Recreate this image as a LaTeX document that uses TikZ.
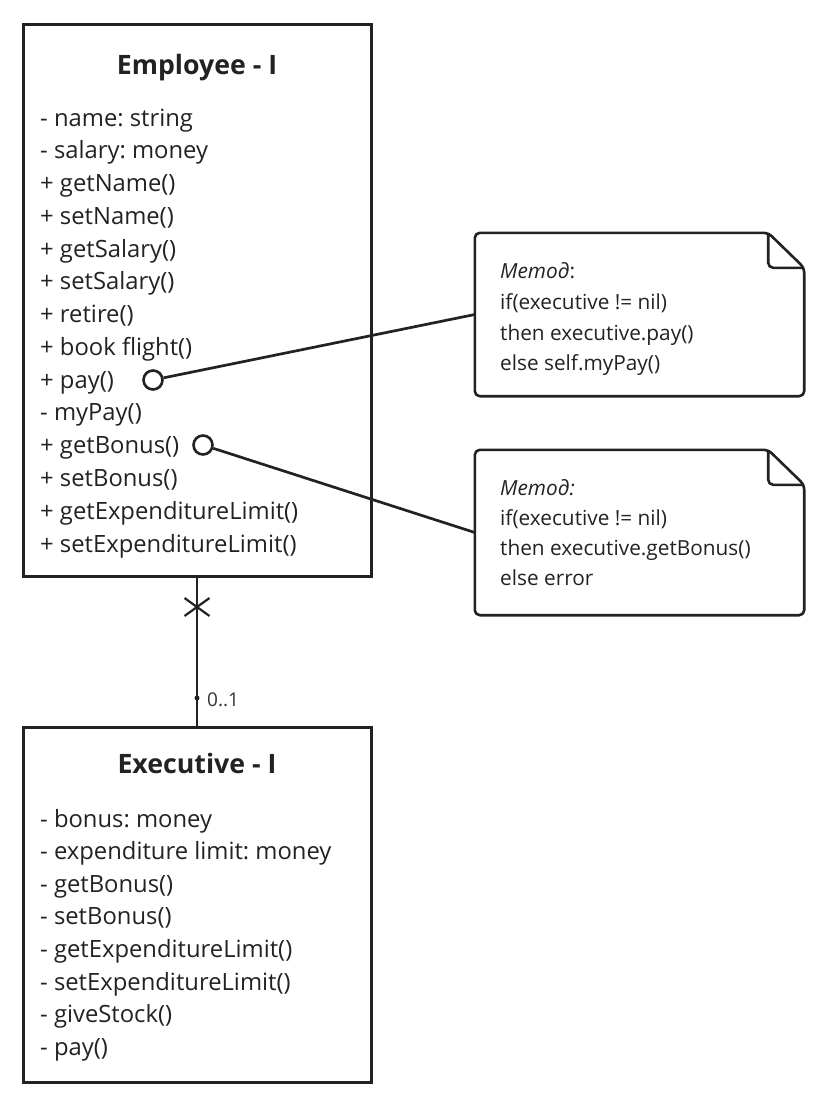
\documentclass[tikz,border=0pt]{standalone}
\usepackage{fontspec}
\setmainfont{Open Sans}
\definecolor{ink}{HTML}{222222}
\definecolor{softink}{HTML}{333333}
\begin{document}
\frenchspacing
\begin{tikzpicture}[x=1pt,y=-1pt,
  classbox/.style={draw=ink, line width=3pt, inner sep=0pt, minimum width=348pt},
  ttl/.style={anchor=base, inner sep=0pt, text=ink, font=\bfseries\fontsize{26.7}{30}\selectfont},
  item/.style={anchor=base west, inner sep=0pt, text=ink, font=\fontsize{23.8}{28}\selectfont},
  notebox/.style={inner sep=0pt, minimum width=329pt},
  noteline/.style={draw=ink, line width=2.6pt, rounded corners=5pt, line join=round},
  ntext/.style={anchor=base west, inner sep=0pt, text=ink, font=\fontsize{20.8}{25}\selectfont},
  port/.style={circle, draw=ink, line width=2.6pt, fill=white, inner sep=0pt, minimum size=19pt},
  conn/.style={draw=ink, line width=2.7pt}
]
\useasboundingbox (0,0) rectangle (833,1106);

% classes
\node[classbox, minimum height=552pt] (emp) at (197,300) {};
\node[classbox, minimum height=355pt] (exe) at (197,904.5) {};

\node[ttl] (empt) at (197,74) {Employee - I};
\foreach \t [count=\i] in {- name: string, - salary: money, + getName(), + setName(), + getSalary(), + setSalary(), + retire(), + book flight(), + pay(), - myPay(), + getBonus(), + setBonus(), + getExpenditureLimit(), + setExpenditureLimit()}
  \node[item] (ea\i) at (40,{126+32.77*(\i-1)}) {\t};

\node[ttl] (exet) at (197,773) {Executive - I};
\foreach \t [count=\i] in {- bonus: money, - expenditure limit: money, - getBonus(), - setBonus(), - getExpenditureLimit(), - setExpenditureLimit(), - giveStock(), - pay()}
  \node[item] (xa\i) at (40,{827+32.6*(\i-1)}) {\t};

% notes
\node[notebox, minimum height=163pt] (n1) at (639.5,314.5) {};
\node[notebox, minimum height=165pt] (n2) at (639.5,532.5) {};
\foreach \n in {n1,n2}{
  \draw[noteline] ([xshift=-36pt]\n.north east) -- (\n.north west) -- (\n.south west) -- (\n.south east) -- ([yshift=-35pt]\n.north east) -- cycle;
  \draw[noteline] ([xshift=-36pt]\n.north east) -- ([xshift=-36pt,yshift=-35pt]\n.north east) -- ([yshift=-35pt]\n.north east);
}
\node[ntext] (n1a) at (500,278) {\textit{Метод}:};
\node[ntext] (n1b) at (500,309) {if(executive != nil)};
\node[ntext] (n1c) at (500,340) {then executive.pay()};
\node[ntext] (n1d) at (500,370) {else self.myPay()};

\node[ntext] (n2a) at (500,495) {\textit{Метод:}};
\node[ntext] (n2b) at (500,525) {if(executive != nil)};
\node[ntext] (n2c) at (500,555) {then executive.getBonus()};
\node[ntext] (n2d) at (500,585) {else error};

% ports and note links
\node[port] (payc) at (153,380) {};
\node[port] (bonc) at (203,445) {};
\draw[conn] (payc) -- (n1.west);
\draw[conn] (bonc) -- (n2.west);

% association
\draw[conn] (emp.south) -- (exe.north);
\coordinate (xm) at (197,607);
\draw[conn, line width=2.2pt] (xm) ++(-12.5,-9) -- ++(25,18);
\draw[conn, line width=2.2pt] (xm) ++(-12.5,9) -- ++(25,-18);
\node[circle, fill=ink, inner sep=0pt, minimum size=5pt] (dot) at (197,698) {};
\node[anchor=base west, inner sep=0pt, text=softink, font=\fontsize{19}{22}\selectfont] (mult) at (207,706) {0..1};
\end{tikzpicture}
\end{document}
